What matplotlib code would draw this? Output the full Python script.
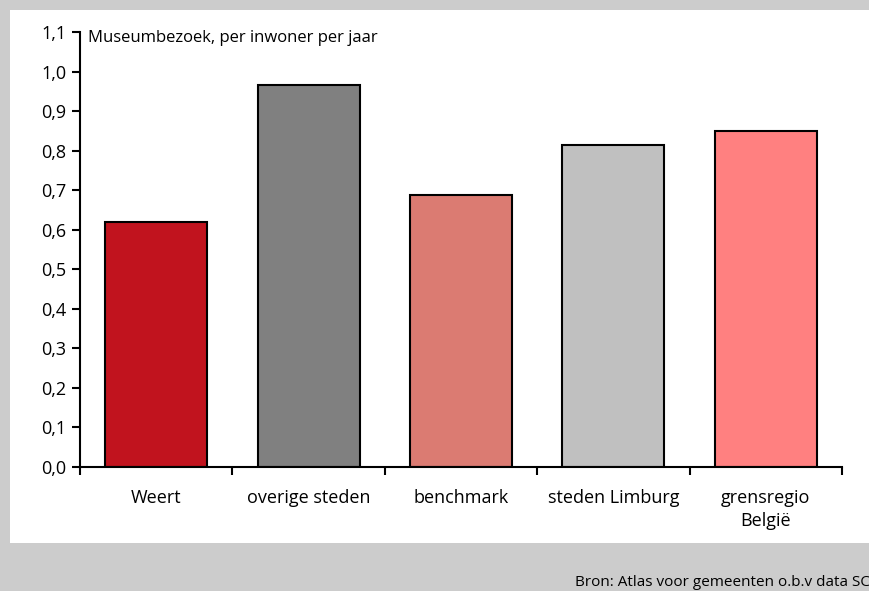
import matplotlib.pyplot as plt
from matplotlib.patches import Rectangle

# data
categories = ['Weert', 'overige steden', 'benchmark', 'steden Limburg', 'grensregio\nBelgië']
values = [0.62, 0.967, 0.689, 0.813, 0.849]
colors = ['#c1131e', '#808080', '#db7b72', '#c0c0c0', '#ff8080']
yticks = [0.0, 0.1, 0.2, 0.3, 0.4, 0.5, 0.6, 0.7, 0.8, 0.9, 1.0, 1.1]

plt.rcParams['font.family'] = ['Open Sans', 'DejaVu Sans']

W, H = 870, 591
fig = plt.figure(figsize=(W / 100, H / 100), dpi=100)
fig.patch.set_facecolor('#cccccc')

# white panel behind the chart
fig.patches.append(Rectangle((10 / W, 1 - 543 / H), 1, (543 - 10) / H,
                             transform=fig.transFigure, facecolor='white',
                             edgecolor='none', zorder=-5))

ax = fig.add_axes([80 / W, 1 - 467 / H, (842 - 80) / W, (467 - 32) / H])
ax.set_facecolor('none')

x = list(range(len(categories)))
ax.bar(x, values, width=0.67, color=colors, edgecolor='black', linewidth=1.5)

ax.set_xlim(-0.5, len(categories) - 0.5)
ax.set_ylim(0, 1.1)
ax.set_yticks(yticks)
ax.set_yticklabels([f'{t:.1f}'.replace('.', ',') for t in yticks], fontsize=13)

# ticks on category boundaries, labels centered
ax.set_xticks([i - 0.5 for i in range(len(categories) + 1)])
ax.set_xticklabels([])
ax.set_xticks(x, minor=True)
ax.set_xticklabels(categories, minor=True, fontsize=13, linespacing=1.35)
ax.tick_params(axis='x', which='minor', length=0, pad=16)
ax.tick_params(axis='x', which='major', length=6, width=1.5, direction='out')
ax.tick_params(axis='y', length=6, width=1.5, direction='out', pad=4)

for s in ['top', 'right']:
    ax.spines[s].set_visible(False)
for s in ['left', 'bottom']:
    ax.spines[s].set_linewidth(1.5)

ax.text(0.01, 1.085, 'Museumbezoek, per inwoner per jaar', transform=ax.get_yaxis_transform(),
        fontsize=12, va='center', ha='left')

fig.text(1.0, 1 - 582 / H, 'Bron: Atlas voor gemeenten o.b.v data SC', fontsize=11,
         ha='right', va='center')

fig.savefig('out.png', dpi=100, facecolor=fig.get_facecolor())
